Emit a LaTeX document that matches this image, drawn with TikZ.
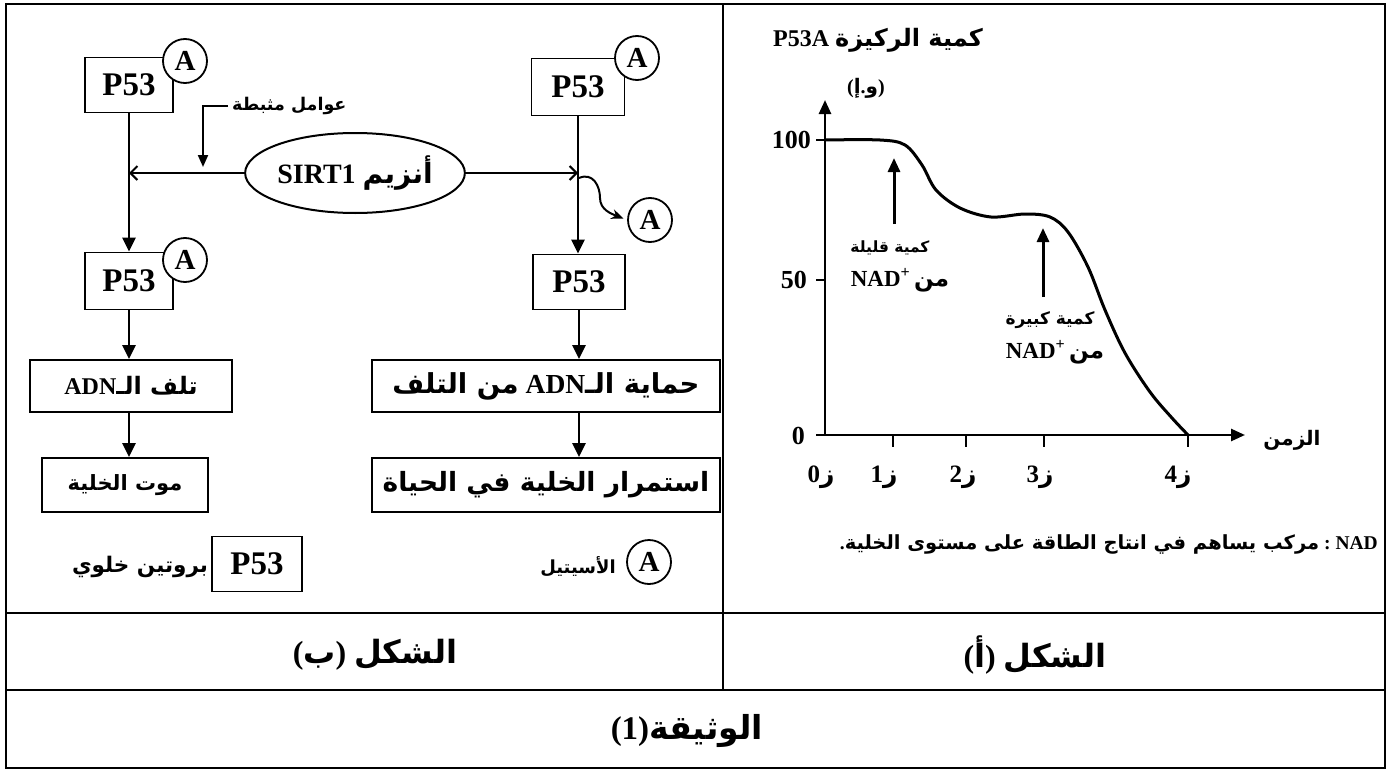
\documentclass[tikz,border=0pt]{standalone}
\usepackage{fontspec}
\setmainfont{Liberation Serif}
\newfontfamily\arabicfont[Script=Arabic]{DejaVu Sans}
\TeXXeTstate=1
\usetikzlibrary{arrows.meta,shapes.geometric}
\newcommand\AR[1]{{\arabicfont\bfseries\beginR #1\endR}}
\newcommand\fsz[1]{\fontsize{#1}{#1}\selectfont}
\begin{document}
\begin{tikzpicture}[x=1pt,y=-1pt,
  box/.style={draw, line width=1.8pt, inner sep=0pt, font=\bfseries\fsz{24}},
  pbox/.style={box, minimum width=90pt, minimum height=55pt, font=\bfseries\fsz{33}},
  acirc/.style={circle, draw, line width=1.8pt, fill=white, minimum size=44pt, inner sep=0pt, font=\bfseries\fsz{29}},
  vconn/.style={line width=2.6pt, -{Triangle[length=14pt,width=13pt]}},
  hconn/.style={line width=2pt, -{Straight Barb[length=7pt,width=14pt]}},
  axis/.style={line width=2.6pt},
  lbl/.style={inner sep=0pt, font=\bfseries},
  frame/.style={line width=2.2pt}]
\useasboundingbox (0,0) rectangle (1390,771);
\fill[white] (0,0) rectangle (1390,771);
% frame
\draw[frame] (6,4) rectangle (1385,768);
\draw[line width=1.4pt] (723,4) -- (723,690);
\draw[line width=2.6pt] (6,613) -- (1385,613);
\draw[line width=2.6pt] (6,690) -- (1385,690);

% ---------- figure (b)
\node[pbox, minimum width=88pt] (p1) at (129,85) {P53};
\node[acirc] (a1) at (185,61) {A};
\node[pbox, minimum width=93pt, minimum height=57pt] (p2) at (578,87) {P53};
\node[acirc] (a2) at (637,58) {A};
\node[ellipse, draw, line width=2pt, minimum width=194pt, minimum height=80pt, inner sep=0pt, font=\bfseries\fsz{28}] (e) at (355,173) {SIRT1 \AR{أنزيم}};
\node[pbox, minimum width=88pt, minimum height=57pt] (p3) at (129,281) {P53};
\node[acirc] (a3) at (185,260) {A};
\node[pbox, minimum width=92pt] (p4) at (579,282) {P53};
\node[acirc] (a4) at (650,220) {A};
\node[box, minimum width=202pt, minimum height=52pt] (b1) at (131,386) {ADN\AR{تلف الـ}};
\node[box, minimum width=166pt, minimum height=54pt, font=\bfseries\fsz{21}] (b2) at (125,485) {\AR{موت الخلية}};
\node[box, minimum width=348pt, minimum height=52pt, font=\bfseries\fsz{27.5}] (b3) at (546,386) {\AR{من التلف}\ ADN\AR{حماية الـ}};
\node[box, minimum width=348pt, minimum height=54pt, font=\bfseries\fsz{26.5}] (b4) at (546,485) {\AR{استمرار الخلية في الحياة}};
% legend
\node[pbox, minimum width=90pt] (p5) at (257,564) {P53};
\node[lbl, font=\bfseries\fsz{21.5}] (t5) at (140,567) {\AR{بروتين خلوي}};
\node[acirc] (a5) at (649,562) {A};
\node[lbl, font=\bfseries\fsz{18}] (t6) at (578,567) {\AR{الأسيتيل}};

% connectors
\draw[vconn] (p1.south) -- (p3.north);
\draw[vconn] (p2.south) -- (p2.south |- p4.north);
\coordinate (j1) at (p1.south |- e.west);
\coordinate (j2) at (p2.south |- e.east);
\draw[hconn] (e.west) -- (j1);
\draw[hconn] (e.east) -- (j2);
\node[lbl, inner xsep=4pt, font=\bfseries\fsz{17.5}, anchor=west] (inh) at (228,106) {\AR{عوامل مثبطة}};
\coordinate (inhend) at (203,167);
\draw[line width=2pt, -{Triangle[length=12pt,width=10pt]}] (inh.west) -| (inhend);
\coordinate (cs) at (579,178);
\draw[line width=2pt, -{Stealth[length=12pt,width=10pt]}, shorten >=4pt] (cs) .. controls (593,172) and (600,186) .. (600,198) .. controls (600,210) and (612,214) .. (a4.west);
\draw[vconn] (p3.south) -- (p3.south |- b1.north);
\draw[vconn] (b1.south -| p3.south) -- (p3.south |- b2.north);
\draw[vconn] (p4.south) -- (p4.south |- b3.north);
\draw[vconn] (b3.south -| p4.south) -- (p4.south |- b4.north);

% ---------- figure (a)
\coordinate (O) at (825,435);
\coordinate (ytip) at (825,100);
\coordinate (xtip) at (1245,435);
\draw[axis, -{Triangle[length=14pt,width=12pt]}] (O) -- (ytip);
\draw[axis, -{Triangle[length=14pt,width=12pt]}] (O) -- (xtip);
\draw[axis] (816,140) -- (825,140);
\draw[axis] (816,280) -- (825,280);
\draw[axis] (816,435) -- (825,435);
\node[lbl, font=\bfseries\fsz{26}, anchor=east] (l100) at (811,140) {100};
\node[lbl, font=\bfseries\fsz{26}, anchor=east] (l50) at (807,280) {50};
\node[lbl, font=\bfseries\fsz{26}, anchor=east] (l0) at (805,436) {0};
\foreach \x in {893,966,1044,1188} \draw[line width=2pt] (\x,435) -- (\x,447);
\foreach \x/\d in {821/0,884/1,963/2,1040/3,1178/4}
  \node[lbl, font=\bfseries\fsz{25}] at (\x,477) {\d\AR{ز}};
\node[lbl, font=\bfseries\fsz{20}] (tz) at (1292,440) {\AR{الزمن}};
\draw[line width=3pt, line join=round] plot[smooth, tension=0.55] coordinates {(825,140) (880,140) (905,145) (922,165) (936,190) (960,208) (991,217) (1025,214) (1050,217) (1068,232) (1088,267) (1105,310) (1125,353) (1150,392) (1172,418) (1189,436)};
\coordinate (r1b) at (894,224);
\coordinate (r1t) at (894,158);
\coordinate (r2b) at (1043,297);
\coordinate (r2t) at (1043,228);
\draw[line width=3pt, -{Triangle[length=14pt,width=12pt]}] (r1b) -- (r1t);
\draw[line width=3pt, -{Triangle[length=14pt,width=12pt]}] (r2b) -- (r2t);
\node[lbl, font=\bfseries\fsz{15.5}] (q1) at (890,248) {\AR{كمية قليلة}};
\node[lbl, font=\bfseries\fsz{23}] (q2) at (900,280) {NAD\textsuperscript{+}\,\AR{من}};
\node[lbl, font=\bfseries\fsz{17}] (q3) at (1050,320) {\AR{كمية كبيرة}};
\node[lbl, font=\bfseries\fsz{23}] (q4) at (1055,352) {NAD\textsuperscript{+}\,\AR{من}};
\node[lbl, font=\bfseries\fsz{24}] (ttl) at (878,40) {P53A \AR{كمية الركيزة}};
\node[lbl, font=\bfseries\fsz{20}] (unit) at (866,88) {({\arabicfont\bfseries إ}.{\arabicfont\bfseries و})};
\node[lbl, font=\bfseries\fsz{19.5}, anchor=east] (note) at (1378,544) {.\AR{مركب يساهم في انتاج الطاقة على مستوى الخلية}\ :\ NAD};

% ---------- captions
\node[lbl, font=\bfseries\fsz{32}] (h1) at (375,655) {({\arabicfont\bfseries ب}) \AR{الشكل}};
\node[lbl, font=\bfseries\fsz{32}] (h2) at (1035,655) {({\arabicfont\bfseries أ}) \AR{الشكل}};
\node[lbl, font=\bfseries\fsz{33}] (h3) at (687,731) {(1)\AR{الوثيقة}};
\end{tikzpicture}
\end{document}
